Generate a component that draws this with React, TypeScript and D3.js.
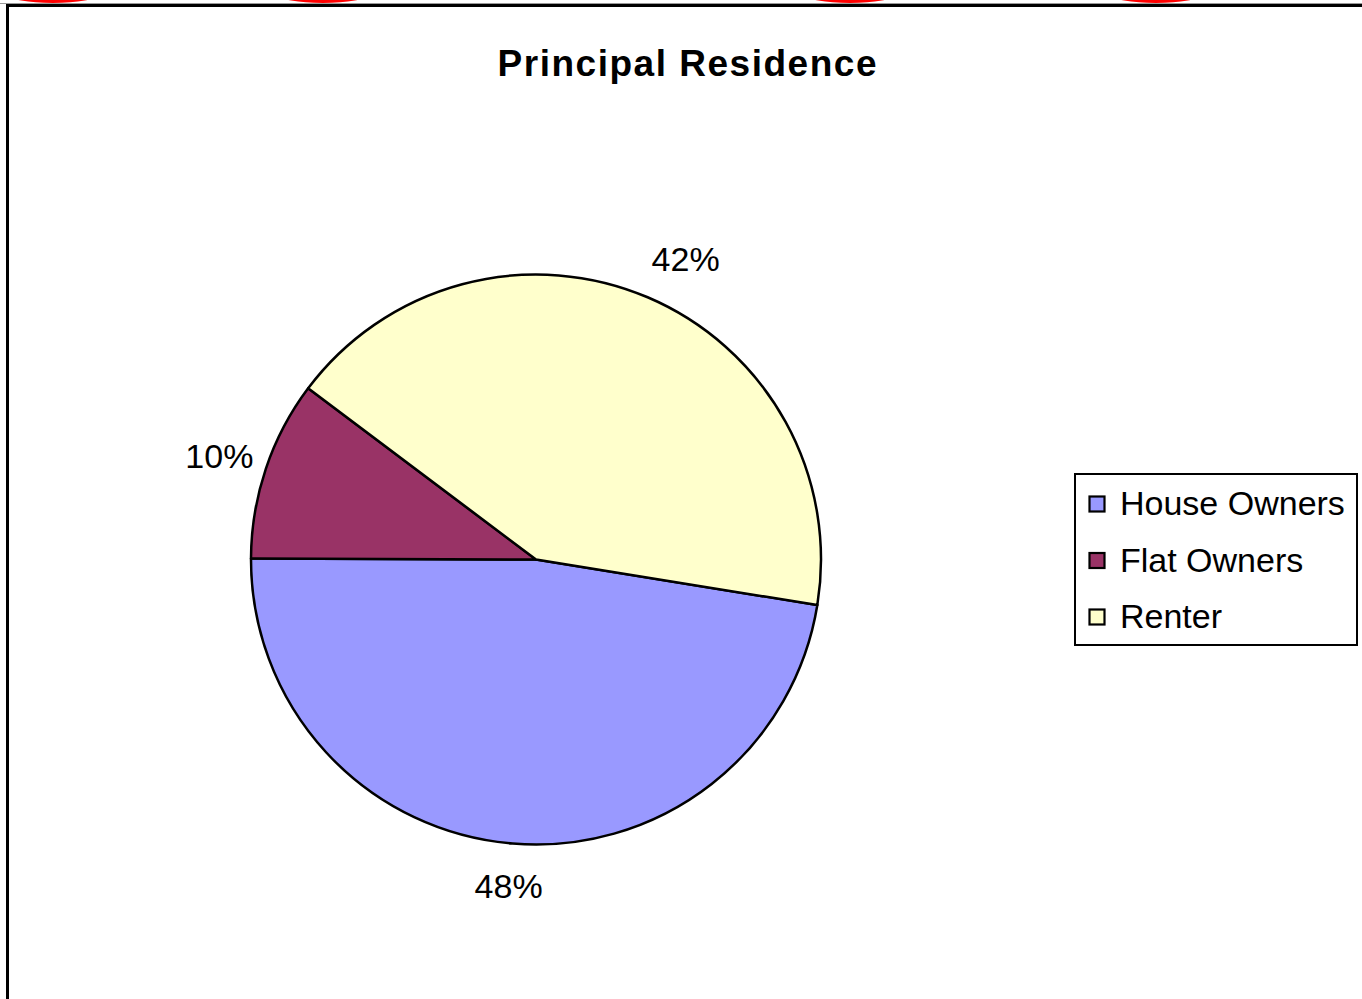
import { useEffect, useRef } from 'react';
import * as d3 from 'd3';

// Principal residence shares
const categories = ['House Owners', 'Flat Owners', 'Renter'];
const values = [47.5, 10.2, 42.3];
const colors = ['#9999FF', '#993366', '#FFFFCC'];
const chartTitle = 'Principal Residence';

// cropped red marks along the top edge of the screenshot
const marks = [
    { x: 53, filled: true },
    { x: 323, filled: false },
    { x: 850, filled: true },
    { x: 1156, filled: false },
];

export default function App() {
    const svgRef = useRef<SVGSVGElement>(null);

    useEffect(() => {
        if (!svgRef.current) return;
        const svg = d3.select(svgRef.current);
        svg.selectAll('*').remove();

        const width = 1362;
        const height = 999;
        const font = '"Liberation Sans", Arial, sans-serif';

        svg.append('rect')
            .attr('width', width)
            .attr('height', height)
            .attr('fill', '#fff');

        // red marks cut off at the top
        marks.forEach(m => {
            svg.append('ellipse')
                .attr('cx', m.x)
                .attr('cy', -8)
                .attr('rx', 44)
                .attr('ry', 8)
                .attr('fill', m.filled ? '#ff0000' : 'none')
                .attr('stroke', '#ff0000')
                .attr('stroke-width', 6);
        });

        // chart area border
        svg.append('line')
            .attr('x1', 0).attr('x2', width)
            .attr('y1', 3.5).attr('y2', 3.5)
            .attr('stroke', '#999').attr('stroke-width', 1);
        svg.append('rect')
            .attr('x', 7.5)
            .attr('y', 5.5)
            .attr('width', width + 20)
            .attr('height', height + 20)
            .attr('fill', 'none')
            .attr('stroke', '#000')
            .attr('stroke-width', 3);

        // title
        svg.append('text')
            .attr('x', 687)
            .attr('y', 76)
            .attr('text-anchor', 'middle')
            .attr('font-family', font)
            .attr('font-weight', 'bold')
            .attr('font-size', 37)
            .attr('textLength', 379)
            .attr('lengthAdjust', 'spacing')
            .text(chartTitle);

        // pie
        const cx = 536;
        const cy = 559.5;
        const r = 285;
        const data = categories.map((c, i) => ({ name: c, value: values[i], color: colors[i] }));
        const start = (99.2 * Math.PI) / 180;
        const pie = d3.pie<typeof data[0]>()
            .value(d => d.value)
            .sort(null)
            .startAngle(start)
            .endAngle(start + 2 * Math.PI);
        const arcs = pie(data);
        const arc = d3.arc<d3.PieArcDatum<typeof data[0]>>().innerRadius(0).outerRadius(r);
        const labelArc = d3.arc<d3.PieArcDatum<typeof data[0]>>().innerRadius(327).outerRadius(327);

        const g = svg.append('g').attr('transform', `translate(${cx},${cy})`);
        g.selectAll('path.slice')
            .data(arcs)
            .enter()
            .append('path')
            .attr('class', 'slice')
            .attr('d', arc)
            .attr('fill', d => d.data.color)
            .attr('stroke', '#000')
            .attr('stroke-width', 2.5)
            .attr('stroke-linejoin', 'round');

        // Excel pushes labels sideways a little
        const nudge = (d: d3.PieArcDatum<typeof data[0]>) => {
            const s = Math.sin((d.startAngle + d.endAngle) / 2);
            return s > 0 ? 55 * s : 7 * s;
        };

        const total = d3.sum(values);
        g.selectAll('text.lbl')
            .data(arcs)
            .enter()
            .append('text')
            .attr('class', 'lbl')
            .attr('x', d => labelArc.centroid(d)[0] + nudge(d))
            .attr('y', d => labelArc.centroid(d)[1])
            .attr('dy', '0.36em')
            .attr('text-anchor', 'middle')
            .attr('font-family', font)
            .attr('font-size', 34)
            .text(d => `${Math.round((d.data.value / total) * 100)}%`);

        // legend
        const lx = 1075;
        const ly = 474;
        svg.append('rect')
            .attr('x', lx)
            .attr('y', ly)
            .attr('width', 282)
            .attr('height', 171)
            .attr('fill', '#fff')
            .attr('stroke', '#000')
            .attr('stroke-width', 2);

        const rows = svg.selectAll('g.leg')
            .data(data)
            .enter()
            .append('g')
            .attr('class', 'leg')
            .attr('transform', (_, i) => `translate(${lx}, ${ly + 29 + i * 56.5})`);
        rows.append('rect')
            .attr('x', 14.5)
            .attr('y', -6.5)
            .attr('width', 15)
            .attr('height', 15)
            .attr('fill', d => d.color)
            .attr('stroke', '#000')
            .attr('stroke-width', 2.2);
        rows.append('text')
            .attr('x', 45)
            .attr('y', 0)
            .attr('dy', '0.36em')
            .attr('font-family', font)
            .attr('font-size', 34)
            .text(d => d.name);
    }, []);

    return (
        <div style={{ position: 'absolute', left: 0, top: 0, width: 1362, height: 999, overflow: 'hidden' }}>
            <svg ref={svgRef} width={1362} height={999} style={{ display: 'block' }} />
        </div>
    );
}
